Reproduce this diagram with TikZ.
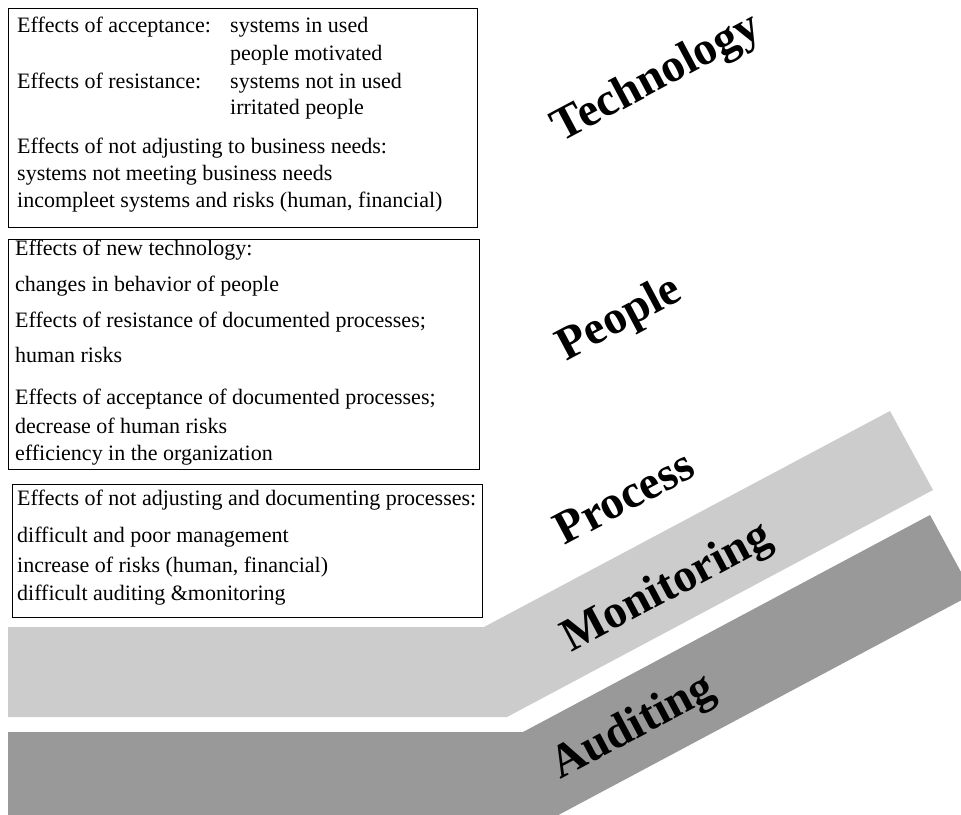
\documentclass[tikz,border=0pt]{standalone}
\usepackage{fontspec}
\setmainfont{Liberation Serif}
\definecolor{bandlight}{HTML}{CCCCCC}
\definecolor{banddark}{HTML}{999999}
\begin{document}
\begin{tikzpicture}[x=1pt,y=-1pt,
  box/.style={draw=black, line width=1.3pt, fill=white, inner sep=0pt, anchor=north west},
  txt/.style={anchor=base west, inner sep=0pt, font=\fontsize{22}{26}\selectfont},
  lbl/.style={rotate=28, inner sep=0pt, font=\fontsize{47}{50}\selectfont\bfseries}]
\useasboundingbox (0,0) rectangle (961,814);
\begin{scope}
\clip (0,0) rectangle (961,814);
\fill[bandlight] (8,627) -- (484,627) -- (890,411) -- (933,490) -- (507,717) -- (8,717) -- cycle;
\fill[banddark] (8,732) -- (523,732) -- (930,515) -- (973,594) -- (549,820) -- (8,820) -- cycle;
\end{scope}
% box 1
\node[box, minimum width=469pt, minimum height=219pt] (b1) at (8,8) {};
\node[txt] (t1a) at (17,32) {Effects of acceptance:};
\node[txt] (t1b) at (230,32) {systems in used};
\node[txt] (t1c) at (230,60) {people motivated};
\node[txt] (t1d) at (17,88) {Effects of resistance:};
\node[txt] (t1e) at (230,88) {systems not in used};
\node[txt] (t1f) at (230,114) {irritated people};
\node[txt] (t1g) at (17,153) {Effects of not adjusting to business needs:};
\node[txt] (t1h) at (17,180) {systems not meeting business needs};
\node[txt] (t1i) at (17,207) {incompleet systems and risks (human, financial)};
% box 2
\node[box, minimum width=471pt, minimum height=230pt] (b2) at (8,239) {};
\node[txt] (t2a) at (15,255) {Effects of new technology:};
\node[txt] (t2b) at (15,291) {changes in behavior of people};
\node[txt] (t2c) at (15,327) {Effects of resistance of documented processes;};
\node[txt] (t2d) at (15,362) {human risks};
\node[txt] (t2e) at (15,404) {Effects of acceptance of documented processes;};
\node[txt] (t2f) at (15,433) {decrease of human risks};
\node[txt] (t2g) at (15,460) {efficiency in the organization};
% box 3
\node[box, minimum width=470pt, minimum height=133pt] (b3) at (12,484) {};
\node[txt] (t3a) at (17,505) {Effects of not adjusting and documenting processes:};
\node[txt] (t3b) at (17,542) {difficult and poor management};
\node[txt] (t3c) at (17,572) {increase of risks (human, financial)};
\node[txt] (t3d) at (17,600) {difficult auditing \&monitoring};
% rotated labels
\node[lbl] (tech) at (657,79) {Technology};
\node[lbl] (peop) at (620,320) {People};
\node[lbl] (proc) at (624,497) {Process};
\node[lbl] (moni) at (668,589) {Monitoring};
\node[lbl] (audi) at (634,728) {Auditing};
\end{tikzpicture}
\end{document}
